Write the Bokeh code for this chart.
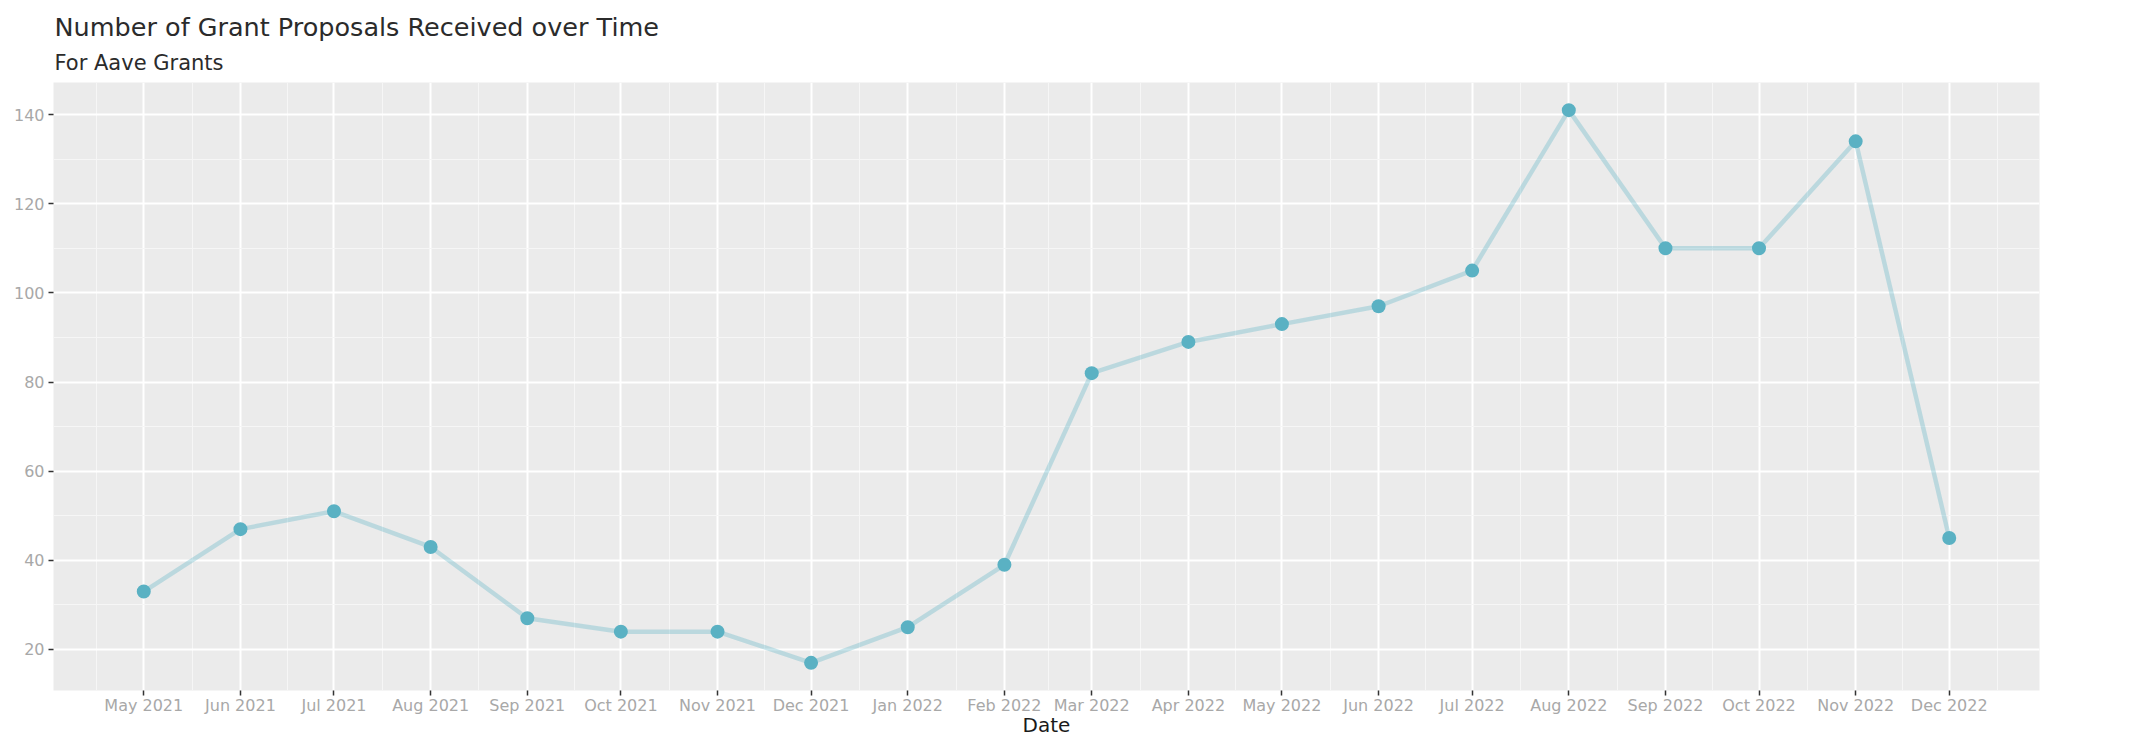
import math
import pandas as pd
from bokeh.plotting import figure
from bokeh.models import (Range1d, FixedTicker, DatetimeTickFormatter, Label,
                          Title, ColumnDataSource)
from bokeh.embed import file_html
from bokeh.resources import INLINE

# ---- data ----
months = ["2021-05-01", "2021-06-01", "2021-07-01", "2021-08-01", "2021-09-01",
          "2021-10-01", "2021-11-01", "2021-12-01", "2022-01-01", "2022-02-01",
          "2022-03-01", "2022-04-01", "2022-05-01", "2022-06-01", "2022-07-01",
          "2022-08-01", "2022-09-01", "2022-10-01", "2022-11-01", "2022-12-01"]
counts = [33, 47, 51, 43, 27, 24, 24, 17, 25, 39,
          82, 89, 93, 97, 105, 141, 110, 110, 134, 45]
tick_labels = ["May 2021", "Jun 2021", "Jul 2021", "Aug 2021", "Sep 2021",
               "Oct 2021", "Nov 2021", "Dec 2021", "Jan 2022", "Feb 2022",
               "Mar 2022", "Apr 2022", "May 2022", "Jun 2022", "Jul 2022",
               "Aug 2022", "Sep 2022", "Oct 2022", "Nov 2022", "Dec 2022"]
y_ticks = [20, 40, 60, 80, 100, 120, 140]
y_minor = [10, 30, 50, 70, 90, 110, 130, 150]

title_text = "Number of Grant Proposals Received over Time"
subtitle_text = "For Aave Grants"
x_title = "Date"
y_title = "Count"

# ---- derived ----
dates = pd.to_datetime(months)
ms = [d.value / 1e6 for d in dates]
ext = [pd.Timestamp("2021-04-01").value / 1e6] + ms + [pd.Timestamp("2023-01-01").value / 1e6]
x_minor = [(a + b) / 2 for a, b in zip(ext[:-1], ext[1:])]

span = ms[-1] - ms[0]
x0, x1 = ms[0] - 0.05 * span, ms[-1] + 0.05 * span
ymin, ymax = min(counts), max(counts)
yspan = ymax - ymin
y0, y1 = ymin - 0.05 * yspan, ymax + 0.05 * yspan

src = ColumnDataSource(dict(x=dates, y=counts))

FONT = "DejaVu Sans"
W, H = 2136, 750
ML, MR, MT, MB = 53, 97, 82, 60

p = figure(width=W, height=H, x_axis_type="datetime", title=None,
           x_range=Range1d(x0, x1), y_range=Range1d(y0, y1),
           output_backend="svg", toolbar_location=None,
           min_border_left=ML, min_border_right=MR,
           min_border_top=MT, min_border_bottom=MB)

p.background_fill_color = "#EBEBEB"
p.border_fill_color = "white"
p.outline_line_color = None

for g in (p.xgrid[0], p.ygrid[0]):
    g.grid_line_color = "white"
    g.grid_line_width = 2
    g.minor_grid_line_color = "#F6F6F6"
    g.minor_grid_line_width = 1

p.xaxis.ticker = FixedTicker(ticks=ms, minor_ticks=x_minor)
p.xaxis.formatter = DatetimeTickFormatter(
    days="%b %Y", months="%b %Y", years="%b %Y")
p.xaxis.major_label_overrides = {m: lab for m, lab in zip(ms, tick_labels)}
p.yaxis.ticker = FixedTicker(ticks=y_ticks, minor_ticks=y_minor)

for ax in (p.xaxis[0], p.yaxis[0]):
    ax.axis_line_color = None
    ax.major_tick_line_color = "#333333"
    ax.major_tick_line_width = 1.5
    ax.major_tick_out = 5
    ax.major_tick_in = 0
    ax.minor_tick_out = 0
    ax.minor_tick_in = 0
    ax.major_label_text_font = FONT
    ax.major_label_text_font_size = "16px"
    ax.major_label_text_color = "#A8A8A8"

p.xaxis.major_label_standoff = 0
p.yaxis.major_label_standoff = 4
p.xaxis.axis_label = x_title
p.xaxis.axis_label_text_font = FONT
p.xaxis.axis_label_text_font_size = "20px"
p.xaxis.axis_label_text_font_style = "normal"
p.xaxis.axis_label_text_color = "#1A1A1A"
p.xaxis.axis_label_standoff = -5

p.line("x", "y", source=src, line_color="#5AB4C6", line_alpha=0.33,
       line_width=4.5)
p.scatter("x", "y", source=src, size=14, fill_color="#5AB1C3",
          line_color="#5AB1C3", line_width=0)

# titles: first added sits nearest the frame
p.add_layout(Title(text=subtitle_text, text_font=FONT, text_font_size="21px",
                   text_font_style="normal", text_color="#2B2B2B",
                   align="left", standoff=15, offset=1), "above")
p.add_layout(Title(text=title_text, text_font=FONT, text_font_size="25.5px",
                   text_font_style="normal", text_color="#2B2B2B",
                   align="left", standoff=0, offset=1), "above")

FH = H - MT - MB
p.add_layout(Label(x=-(ML - 3), y=FH / 2, x_units="screen", y_units="screen",
                   text=y_title, angle=math.pi / 2, text_font=FONT,
                   text_font_size="20px", text_color="#1A1A1A",
                   text_baseline="alphabetic", text_align="center"))

open("out.html", "w").write(file_html(p, INLINE))
